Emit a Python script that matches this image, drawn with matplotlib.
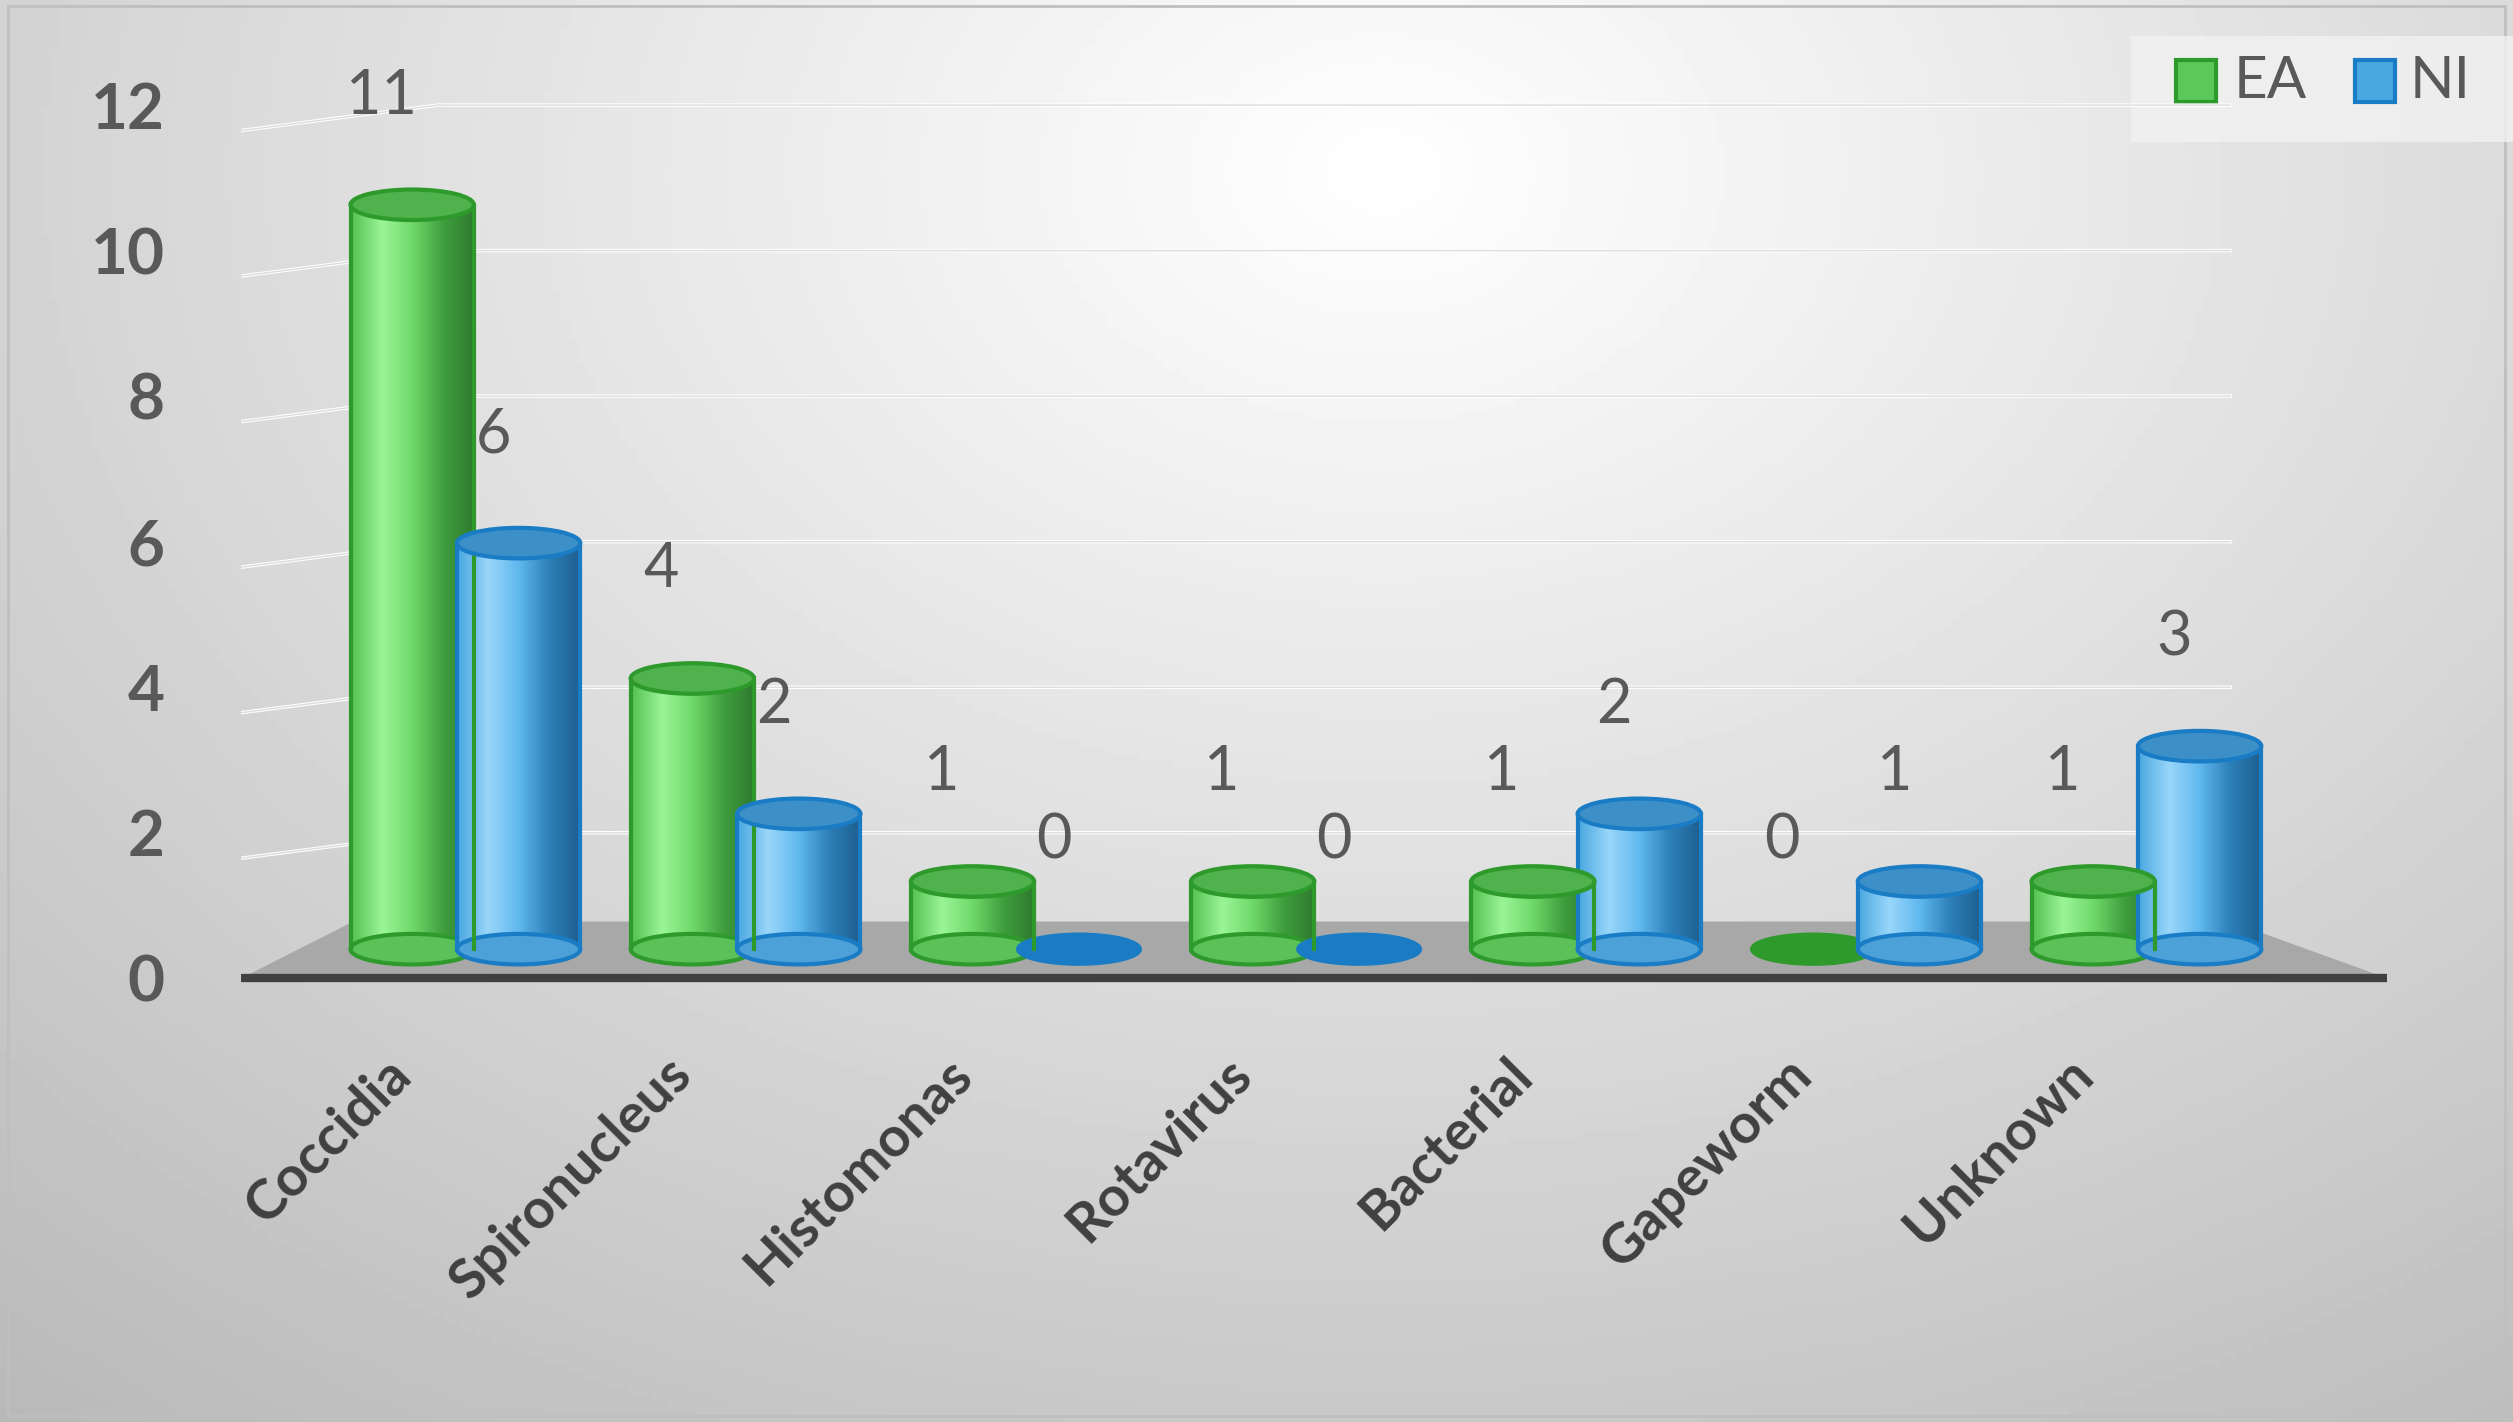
import numpy as np
import matplotlib
matplotlib.use("Agg")
import matplotlib.pyplot as plt
import matplotlib.transforms as mtransforms
from matplotlib.patches import Rectangle, Ellipse, Polygon
from matplotlib.colors import LinearSegmentedColormap

plt.rcParams['font.family'] = ['Lato', 'DejaVu Sans']

categories = ["Coccidia", "Spironucleus", "Histomonas", "Rotavirus", "Bacterial", "Gapeworm", "Unknown"]
ea = [11, 4, 1, 1, 1, 0, 1]
ni = [6, 2, 0, 0, 2, 1, 3]

fig = plt.figure(figsize=(25.13, 14.22), dpi=100)

# background gradient
bg = fig.add_axes([0, 0, 1, 1])
yy, xx = np.mgrid[0:1:200j, 0:1:300j]
d = np.sqrt(((xx - 0.55) / 0.7) ** 2 + ((yy - 0.12) / 0.9) ** 2)
bg.imshow(np.clip(1 - 0.22 * d, 0.72, 1.0), cmap="gray", vmin=0, vmax=1,
          extent=[0, 1, 0, 1], origin="upper", aspect="auto")
bg.add_patch(Rectangle((0.003, 0.004), 0.994, 0.992, fill=False, ec="#bfbfbf", lw=2))
bg.set_axis_off()

ax = fig.add_axes([0.096, 0.3018, 0.854, 0.655])
ax.set_xlim(-0.8, 6.86)
ax.set_ylim(-0.2, 12.6)
ax.patch.set_alpha(0)
for s in ax.spines.values():
    s.set_visible(False)

# gridlines with perspective stub
for g in range(2, 13, 2):
    ax.plot([-0.8, -0.1, 6.3], [g - 0.35, g, g], color="#ffffff", lw=2.5, zorder=1)
    ax.plot([-0.8, -0.1, 6.3], [g - 0.35, g, g], color="#dcdcdc", lw=1, zorder=1)

# floor
ax.add_patch(Polygon([[-0.8, 0], [6.86, 0], [6.3, 0.78], [-0.4, 0.78]],
                     closed=True, fc="#a8a8a8", ec="none", zorder=2))
ax.plot([-0.8, 6.86], [0, 0], color="#404040", lw=6, zorder=3, solid_capstyle="round")

green = LinearSegmentedColormap.from_list("g", ["#55c153", "#9af596", "#6fd86b", "#3f9e3d", "#2f7a2e"])
blue = LinearSegmentedColormap.from_list("b", ["#4aa8e0", "#9ad6fa", "#5fb8ee", "#2c7fb8", "#1e5f8f"])

w = 0.44
eh = 0.42
base = 0.4
scale = 0.93


def cylinder(xc, v, cmap, edge, topc):
    top = base + v * scale
    if v == 0:
        ax.add_patch(Ellipse((xc, base), w, eh, fc=edge, ec=edge, lw=2, zorder=4))
        return
    rect = Rectangle((xc - w / 2, base), w, top - base, fc="none", ec="none", zorder=4)
    ax.add_patch(rect)
    im = ax.imshow(np.linspace(0, 1, 100)[None, :], cmap=cmap, aspect="auto",
                   extent=[xc - w / 2, xc + w / 2, base, top], zorder=4)
    im.set_clip_path(rect)
    ax.add_patch(Ellipse((xc, base), w, eh, fc=cmap(0.6), ec=edge, lw=3, zorder=4))
    ax.plot([xc - w / 2, xc - w / 2], [base, top], color=edge, lw=3, zorder=5)
    ax.plot([xc + w / 2, xc + w / 2], [base, top], color=edge, lw=3, zorder=5)
    ax.add_patch(Ellipse((xc, top), w, eh, fc=topc, ec=edge, lw=3, zorder=6))


x = np.arange(len(categories))
for i in x:
    cylinder(i - 0.19, ea[i], green, "#2e9a2c", "#4fb24d")
    cylinder(i + 0.19, ni[i], blue, "#1a7cc4", "#3d8fc8")
    ax.text(i - 0.3, base + ea[i] * scale + 1.1, str(ea[i]), ha="center", va="bottom",
            fontsize=44, color="#595959", zorder=7)
    ax.text(i + 0.1, base + ni[i] * scale + 1.1, str(ni[i]), ha="center", va="bottom",
            fontsize=44, color="#595959", zorder=7)

ax.set_yticks(range(0, 13, 2))
ax.set_yticklabels([str(t) for t in range(0, 13, 2)], fontsize=46, fontweight="bold", color="#595959")
ax.tick_params(axis="y", length=0, pad=55)
ax.set_xticks(x)
ax.set_xticklabels(categories, rotation=45, ha="right", rotation_mode="anchor",
                   fontsize=40, fontweight="bold", color="#404040")
ax.tick_params(axis="x", length=0, pad=40)
shift = mtransforms.ScaledTranslation(-0.8, 0, fig.dpi_scale_trans)
for lbl in ax.get_xticklabels():
    lbl.set_transform(lbl.get_transform() + shift)

# legend
bg.add_patch(Rectangle((0.848, 0.9), 0.152, 0.075, fc="#f2f2f2", ec="none", alpha=0.8))
bg.add_patch(Rectangle((0.866, 0.928), 0.016, 0.03, fc="#5cc85a", ec="#2e9a2c", lw=3))
bg.text(0.889, 0.943, "EA", fontsize=42, color="#595959", va="center")
bg.add_patch(Rectangle((0.937, 0.928), 0.016, 0.03, fc="#4aa8e0", ec="#1a7cc4", lw=3))
bg.text(0.959, 0.943, "NI", fontsize=42, color="#595959", va="center")
bg.set_xlim(0, 1)
bg.set_ylim(0, 1)

fig.savefig("out.png", dpi=100)
